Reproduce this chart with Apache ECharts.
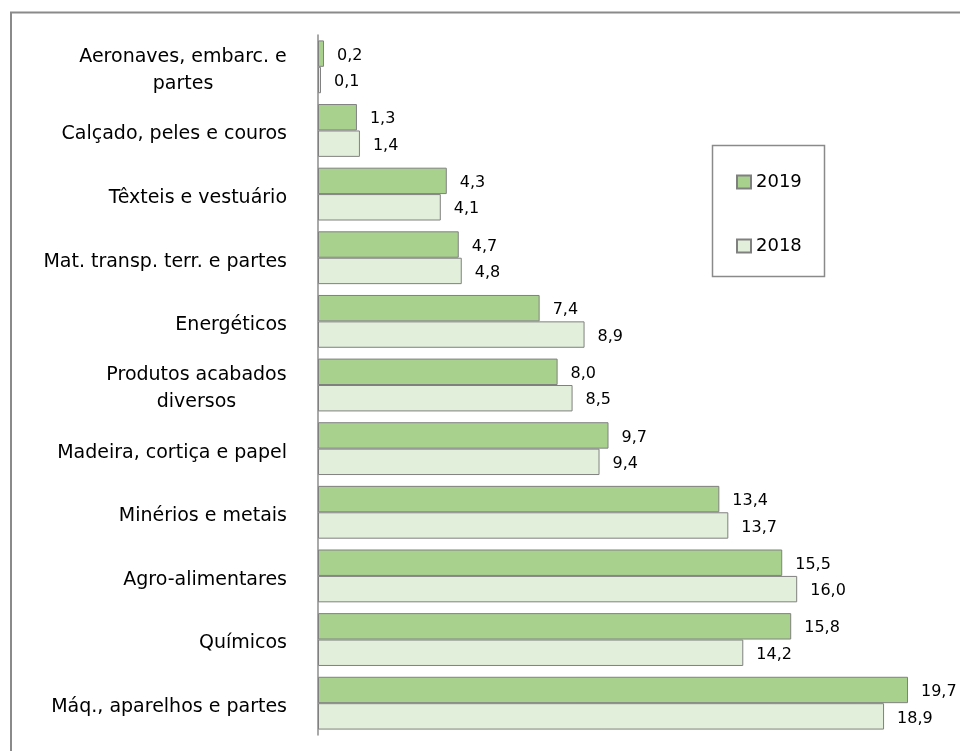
<!DOCTYPE html>
<html>
<head>
<meta charset="utf-8">
<script src="https://cdn.jsdelivr.net/npm/echarts@6/dist/echarts.min.js"></script>
<style>html,body{margin:0;padding:0;background:#fff}#c{width:960px;height:751px}</style>
</head>
<body>
<div id="c"></div>
<script>
var categories = ["Aeronaves, embarc. e\npartes", "Calçado, peles e couros", "Têxteis e vestuário", "Mat. transp. terr. e partes", "Energéticos", "Produtos acabados\ndiversos", "Madeira, cortiça e papel", "Minérios e metais", "Agro-alimentares", "Químicos", "Máq., aparelhos e partes"];
var values2019 = [0.2, 1.3, 4.3, 4.7, 7.4, 8.0, 9.7, 13.4, 15.5, 15.8, 19.7];
var values2018 = [0.1, 1.4, 4.1, 4.8, 8.9, 8.5, 9.4, 13.7, 16.0, 14.2, 18.9];

var FONT = "DejaVu Sans";
var FS = 19;
var cv = document.createElement('canvas').getContext('2d');
cv.font = FS + 'px "' + FONT + '"';
var rich = {};
var richKey = {};
categories.forEach(function (v, i) {
  if (v.indexOf('\n') >= 0) {
    var w = 0;
    v.split('\n').forEach(function (p) { w = Math.max(w, cv.measureText(p).width); });
    rich['c' + i] = { width: Math.ceil(w), align: 'center', fontSize: FS, fontFamily: FONT, color: '#000', lineHeight: 27 };
    richKey[v] = 'c' + i;
  }
});
function fmtNum(p) { return p.value.toFixed(1).replace('.', ','); }

var chart = echarts.init(document.getElementById('c'));
chart.setOption({
  animation: false,
  textStyle: { fontFamily: FONT },
  graphic: [
    { type: 'rect', shape: { x: 11, y: 12.5, width: 1000, height: 1000 }, style: { fill: 'none', stroke: '#8a8a8a', lineWidth: 2 }, silent: true },
    { type: 'rect', shape: { x: 712.5, y: 145.5, width: 112, height: 131 }, style: { fill: 'none', stroke: '#8a8a8a', lineWidth: 1.5 }, silent: true }
  ],
  legend: {
    orient: 'vertical', left: 731, top: 168,
    itemWidth: 14, itemHeight: 13, itemGap: 46,
    icon: 'rect',
    textStyle: { fontSize: 18, color: '#000', fontFamily: FONT },
    data: ['2019', '2018']
  },
  grid: { left: 318, right: 43, top: 35, bottom: 16, containLabel: false },
  xAxis: { type: 'value', min: 0, max: 20, show: false },
  yAxis: {
    type: 'category', inverse: true, data: categories,
    axisLine: { show: true, lineStyle: { color: '#8c8c8c', width: 1.5 } },
    axisTick: { show: false },
    axisLabel: {
      margin: 31, fontSize: FS, color: '#000', fontFamily: FONT, lineHeight: 27,
      padding: [8, 0, 0, 0],
      formatter: function (v) {
        if (!richKey[v]) return v;
        var k = richKey[v];
        return v.split('\n').map(function (p) { return '{' + k + '|' + p + '}'; }).join('\n');
      },
      rich: rich
    }
  },
  series: [
    {
      name: '2019', type: 'bar', data: values2019,
      barCategoryGap: '17%', barGap: '0%',
      itemStyle: { color: '#a9d18e', borderColor: '#808080', borderWidth: 1 },
      label: { show: true, position: 'right', distance: 13, offset: [0, 2], fontSize: 16, color: '#000', fontFamily: FONT, formatter: fmtNum }
    },
    {
      name: '2018', type: 'bar', data: values2018,
      barCategoryGap: '17%', barGap: '0%',
      itemStyle: { color: '#e2efda', borderColor: '#808080', borderWidth: 1 },
      label: { show: true, position: 'right', distance: 13, offset: [0, 2], fontSize: 16, color: '#000', fontFamily: FONT, formatter: fmtNum }
    }
  ]
});
</script>
</body>
</html>
